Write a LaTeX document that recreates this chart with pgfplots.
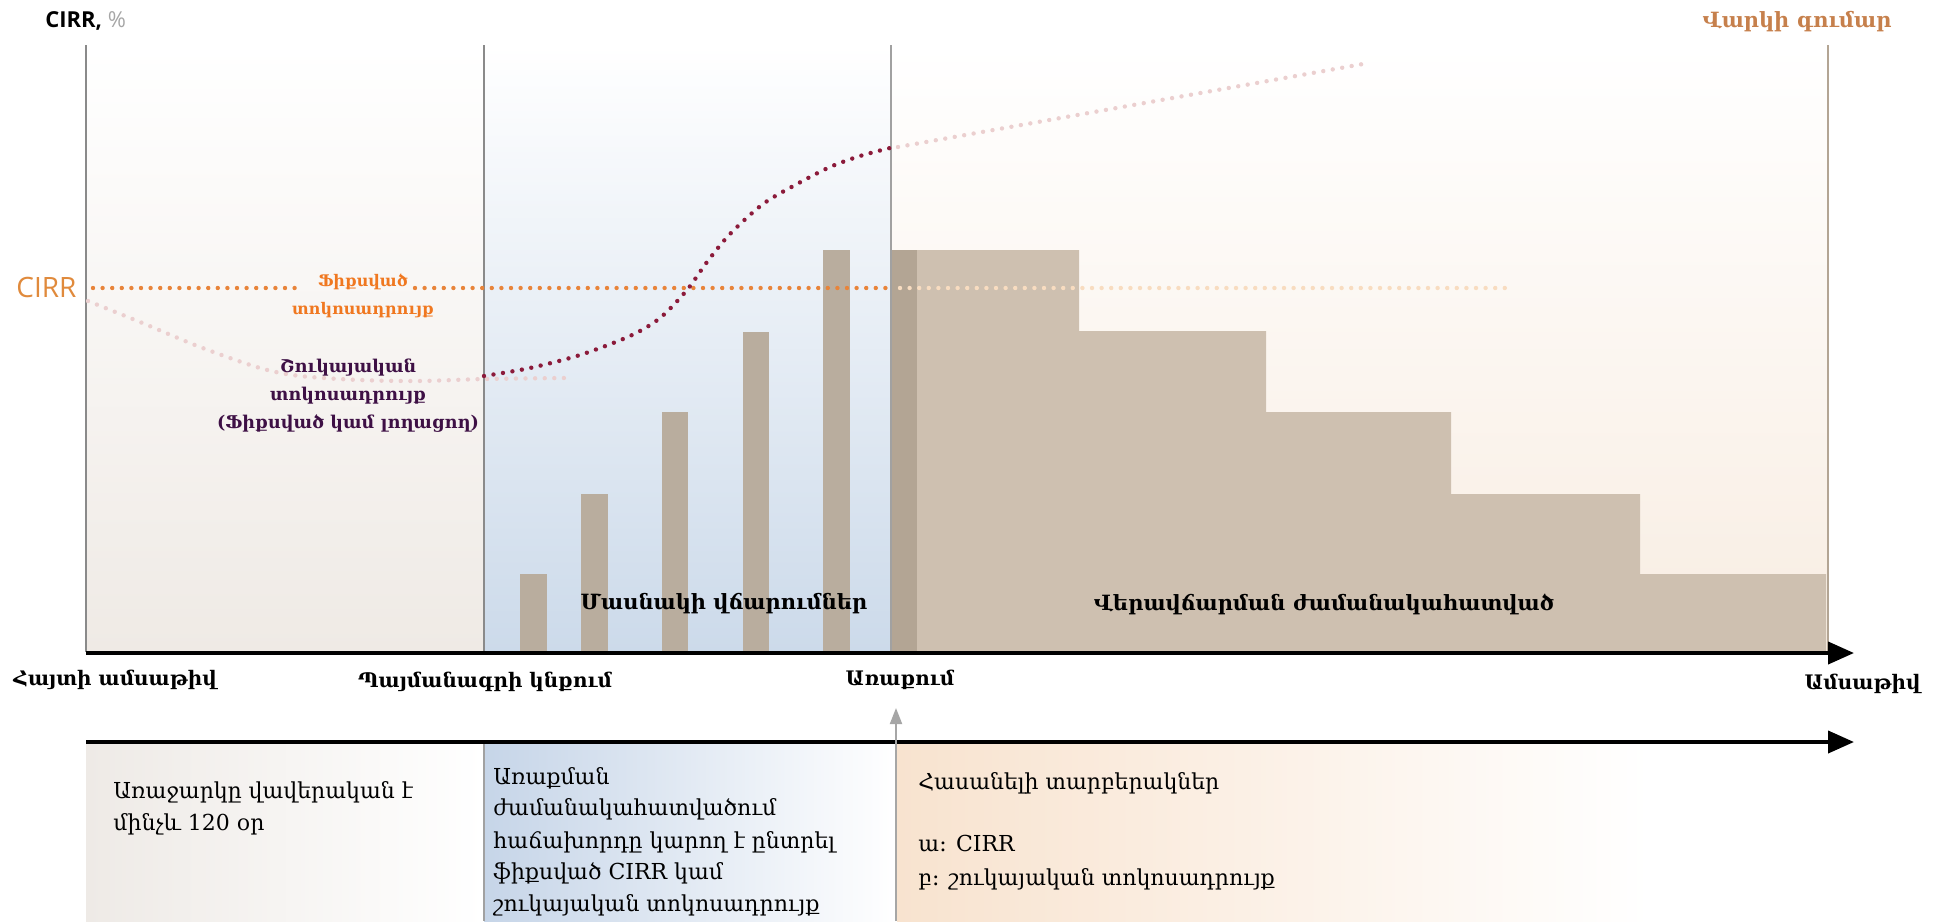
\documentclass[border=0pt]{standalone}
\usepackage{fontspec}
\setmainfont{DejaVu Serif}
\newfontfamily\latin{Open Sans}
\usepackage{pgfplots}
\pgfplotsset{compat=1.18}
\usetikzlibrary{arrows.meta}
\definecolor{barA}{HTML}{B9AD9E}
\definecolor{stepC}{HTML}{CEC0B0}
\definecolor{stepD}{HTML}{B3A594}
\definecolor{maroon}{HTML}{8B1A3A}
\definecolor{pinkL}{HTML}{EBCFCF}
\definecolor{orangeD}{HTML}{E8843A}
\definecolor{orangeL}{HTML}{F8DCC0}
\definecolor{orangeT}{HTML}{F07820}
\definecolor{cirrT}{HTML}{E08A3C}
\definecolor{titleO}{HTML}{C6804C}
\definecolor{purpleT}{HTML}{3E1045}
\definecolor{grayL}{HTML}{8A8A8A}
\definecolor{bgA}{HTML}{EFEAE5}
\definecolor{bgB}{HTML}{CCDAEA}
\definecolor{bgC}{HTML}{F8EDE2}
\definecolor{boxA}{HTML}{EEEAE6}
\definecolor{boxB}{HTML}{C6D5E8}
\definecolor{boxC}{HTML}{F8E3CF}
\tikzset{dots/.style={line width=2.2pt, line cap=round, dash pattern=on 0pt off 4.8pt},
  lab/.style={inner sep=0pt, font=\fontsize{10}{12}\selectfont\bfseries},
  btx/.style={anchor=base west, inner sep=0pt, font=\fontsize{11}{13}\selectfont}}
\begin{document}
\begin{tikzpicture}
\begin{axis}[
  scale only axis, width=972.5pt, height=460.5pt,
  xmin=0, xmax=1945, ymin=0, ymax=921, y dir=reverse,
  hide axis, clip=false]
% frame for bounding box
\addplot[draw=none] coordinates {(0,0) (1945,921)};
% top backgrounds
\addplot[draw=none, top color=white, bottom color=bgA] coordinates {(86,45) (484,45) (484,652) (86,652)} -- cycle;
\addplot[draw=none, top color=white, bottom color=bgB] coordinates {(484,45) (891,45) (891,652) (484,652)} -- cycle;
\addplot[draw=none, top color=white, bottom color=bgC] coordinates {(891,45) (1828,45) (1828,652) (891,652)} -- cycle;
% bottom boxes
\addplot[draw=none, left color=boxA, right color=white] coordinates {(86,742) (484,742) (484,921) (86,921)} -- cycle;
\addplot[draw=none, left color=boxB, right color=white] coordinates {(484,742) (897,742) (897,921) (484,921)} -- cycle;
\addplot[draw=none, left color=boxC, right color=white] coordinates {(897,742) (1650,742) (1650,921) (897,921)} -- cycle;
% partial payment bars
\addplot[draw=none, fill=barA] coordinates {(520,652) (520,574) (547,574) (547,652)} -- cycle;
\addplot[draw=none, fill=barA] coordinates {(581,652) (581,494) (608,494) (608,652)} -- cycle;
\addplot[draw=none, fill=barA] coordinates {(662,652) (662,412) (688,412) (688,652)} -- cycle;
\addplot[draw=none, fill=barA] coordinates {(743,652) (743,332) (769,332) (769,652)} -- cycle;
\addplot[draw=none, fill=barA] coordinates {(823,652) (823,250) (850,250) (850,652)} -- cycle;
% repayment steps
\addplot[draw=none, fill=stepC] coordinates {(891,652) (891,250) (1079,250) (1079,331) (1266,331) (1266,412) (1451,412) (1451,494) (1640,494) (1640,574) (1826,574) (1826,652)} -- cycle;
\addplot[draw=none, fill=stepD] coordinates {(891,652) (891,250) (917,250) (917,652)} -- cycle;
% vertical lines
\addplot[grayL, line width=1.2pt] coordinates {(86,45) (86,652)};
\addplot[grayL, line width=1.2pt] coordinates {(484,45) (484,652)};
\addplot[grayL!80, line width=0.6pt] coordinates {(484,742) (484,921)};
\addplot[grayL!80, line width=1.4pt] coordinates {(891,45) (891,652)};
\addplot[color=stepD, line width=1.2pt] coordinates {(1828,45) (1828,652)};
% CIRR fixed line
\addplot[orangeD, dots] coordinates {(93,288) (296,288)};
\addplot[orangeD, dots] coordinates {(415,288) (891,288)};
\addplot[orangeL, dots] coordinates {(900,288) (1510,288)};
% floating curve
\addplot[pinkL, dots, smooth] coordinates {(88,301) (140,322) (200,347) (260,368) (300,376) (360,380) (420,381) (484,379) (565,378)};
\addplot[maroon, dots, smooth] coordinates {(484,376) (530,368) (580,355) (630,336) (660,318) (687,290) (707,262) (730,234) (763,204) (797,184) (830,167) (860,156) (890,148)};
\addplot[pinkL, dots] coordinates {(898,147) (1363,64)};
% axes arrows
\addplot[black, line width=2pt, -{Triangle[length=13pt, width=11pt]}] coordinates {(86,653) (1854,653)};
\addplot[black, line width=2pt, -{Triangle[length=13pt, width=11pt]}] coordinates {(86,742) (1854,742)};
\addplot[gray!70, line width=1pt, -{Triangle[length=8pt, width=6pt]}] coordinates {(896,921) (896,708)};
% texts
\node[anchor=west, inner sep=0pt] at (axis cs:45,21) {\latin\fontsize{11}{13}\selectfont\bfseries CIRR,\ \mdseries\color{gray!70}\%};
\node[inner sep=0pt, text=titleO, font=\fontsize{10.5}{12}\selectfont\bfseries] at (axis cs:1797,22) {Վարկի գումար};
\node[anchor=west, inner sep=0pt, text=cirrT, font=\latin\fontsize{14}{16}\selectfont] at (axis cs:16,287) {CIRR};
\node[inner sep=0pt, text=orangeT, align=center, font=\fontsize{8}{14}\selectfont\bfseries] at (axis cs:363,296) {Ֆիքսված\\ տոկոսադրույք};
\node[inner sep=0pt, text=purpleT, align=center, font=\fontsize{8.8}{14}\selectfont\bfseries] at (axis cs:348,396) {Շուկայական\\ տոկոսադրույք\\ (Ֆիքսված կամ լողացող)};
\node[lab, font=\fontsize{10.5}{12}\selectfont\bfseries] at (axis cs:724,604) {Մասնակի վճարումներ};
\node[lab, font=\fontsize{10.5}{12}\selectfont\bfseries] at (axis cs:1324,604) {Վերավճարման ժամանակահատված};
\node[lab, anchor=west] at (axis cs:13,680) {Հայտի ամսաթիվ};
\node[lab] at (axis cs:485,682) {Պայմանագրի կնքում};
\node[lab] at (axis cs:900,680) {Առաքում};
\node[lab, anchor=east] at (axis cs:1921,684) {Ամսաթիվ};
% bottom texts
\node[btx] at (axis cs:113,798) {Առաջարկը վավերական է};
\node[btx] at (axis cs:113,830) {մինչև 120 օր};
\node[btx] at (axis cs:493,784) {Առաքման};
\node[btx] at (axis cs:493,815) {ժամանակահատվածում};
\node[btx] at (axis cs:493,848) {հաճախորդը կարող է ընտրել};
\node[btx] at (axis cs:493,879) {ֆիքսված CIRR կամ};
\node[btx] at (axis cs:493,911) {շուկայական տոկոսադրույք};
\node[btx] at (axis cs:918,789) {Հասանելի տարբերակներ};
\node[btx] at (axis cs:918,851) {ա: CIRR};
\node[btx] at (axis cs:918,885) {բ: շուկայական տոկոսադրույք};
\end{axis}
\end{tikzpicture}
\end{document}
